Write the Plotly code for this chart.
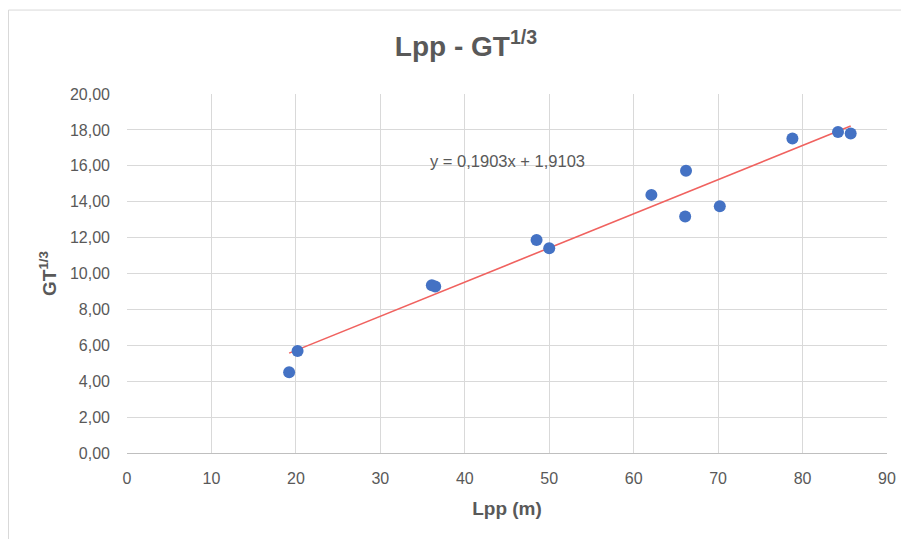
import numpy as np
import plotly.graph_objects as go

lpp = [19.2, 20.2, 36.1, 36.5, 48.5, 50.0, 62.1, 66.1, 66.2, 70.2, 78.8, 84.2, 85.7]
gt13 = [4.50, 5.68, 9.34, 9.27, 11.87, 11.41, 14.38, 13.17, 15.72, 13.75, 17.52, 17.88, 17.80]
slope, intercept = 0.1903, 1.9103
x_ticks = list(range(0, 91, 10))
y_ticks = list(range(0, 21, 2))

OFF = 8  # page body margin
W, H = 909 - OFF, 539 - OFF
L, R, T, B = 127 - OFF, 887 - OFF, 94.3 - OFF, 452.7 - OFF

def px(x):
    return (x - OFF - L) / (R - L)

def py(y):
    return (B - (y - OFF)) / (B - T)

gray = "#595959"
font = "Liberation Sans"

xl = np.array([min(lpp), max(lpp)])
yl = slope * xl + intercept

fig = go.Figure()
fig.add_trace(go.Scatter(x=xl, y=yl, mode="lines",
                         line=dict(color="#F0625F", width=1.6),
                         hoverinfo="skip", showlegend=False))
fig.add_trace(go.Scatter(x=lpp, y=gt13, mode="markers",
                         marker=dict(color="#4472C4", size=12),
                         showlegend=False))

fig.update_layout(
    width=W, height=H,
    margin=dict(l=L, r=W - R, t=T, b=H - B),
    paper_bgcolor="white", plot_bgcolor="white",
    separators=", ",
    title=dict(text="<b>Lpp - GT<sup>1/3</sup></b>", x=(466 - OFF) / W, xanchor="center",
               y=1 - (46 - OFF) / H, yanchor="middle",
               font=dict(family=font, size=28, color=gray)),
    xaxis=dict(range=[0, 90], tickvals=x_ticks, showgrid=True, gridcolor="#d9d9d9",
               gridwidth=1, zeroline=False, showline=True, linecolor="#bfbfbf", linewidth=1,
               ticks="", ticklabelstandoff=11,
               tickfont=dict(family=font, size=16, color=gray),
               title=dict(text="<b>Lpp (m)</b>", font=dict(family=font, size=19, color=gray),
                          standoff=15)),
    yaxis=dict(range=[0, 20], tickvals=y_ticks, tickformat=".2f", showgrid=True,
               gridcolor="#d9d9d9", gridwidth=1, zeroline=False, showline=False,
               ticks="", ticklabelstandoff=16,
               tickfont=dict(family=font, size=16, color=gray),
               title=dict(text="<b>GT<sup>1/3</sup></b>", font=dict(family=font, size=19, color=gray),
                          standoff=8)),
    annotations=[dict(text="y = 0,1903x + 1,9103", x=px(508), y=py(150), xref="paper", yref="paper",
                      showarrow=False, font=dict(family=font, size=16.5, color=gray))],
    shapes=[
        dict(type="line", xref="paper", yref="paper", x0=px(8.5), x1=px(909), y0=py(10.5), y1=py(10.5),
             line=dict(color="#d9d9d9", width=1)),
        dict(type="line", xref="paper", yref="paper", x0=px(8.5), x1=px(8.5), y0=py(10.5), y1=py(539),
             line=dict(color="#d9d9d9", width=1)),
    ],
)

fig.write_html("out.html")
